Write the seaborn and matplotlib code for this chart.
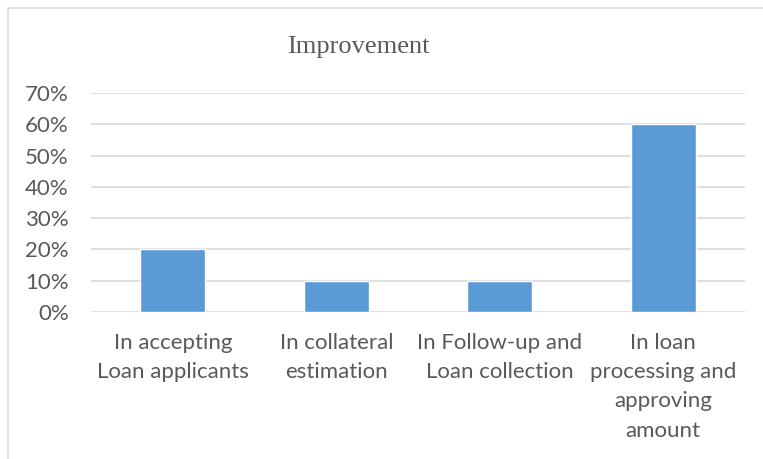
import matplotlib
matplotlib.use("Agg")
import matplotlib.pyplot as plt
import matplotlib.patches as mpatches
from matplotlib.ticker import PercentFormatter, MultipleLocator
import seaborn as sns
import pandas as pd

categories = [
    "In accepting\nLoan applicants",
    "In collateral\nestimation",
    "In Follow-up and\nLoan collection",
    "In loan\nprocessing and\napproving\namount",
]
values = [0.20, 0.10, 0.10, 0.60]
title = "Improvement"

sns.set_theme(style="white")
plt.rcParams["font.family"] = ["Lato", "DejaVu Sans"]

W, H, DPI = 763, 459, 100
fig = plt.figure(figsize=(W / DPI, H / DPI), dpi=DPI)

# outer chart frame (runs past the right and bottom edges)
fig.patches.append(mpatches.Rectangle(
    (8 / W, -0.05), 1.2, 1.05 - 8 / H,
    transform=fig.transFigure, fill=False, edgecolor="#d9d9d9", linewidth=1.2))

ax = fig.add_axes([91 / W, 1 - 312 / H, (745 - 91) / W, (312 - 93) / H])

df = pd.DataFrame({"cat": categories, "val": values})
sns.barplot(data=df, x="cat", y="val", color="#5b9bd5", width=0.4,
            saturation=1, ax=ax, zorder=3)

ax.set_ylim(0, 0.70)
ax.set_xlim(-0.5, 3.5)
ax.yaxis.set_major_locator(MultipleLocator(0.10))
ax.yaxis.set_major_formatter(PercentFormatter(1.0, decimals=0))
ax.grid(axis="y", color="#d9d9d9", linewidth=1.2, zorder=0)
ax.grid(axis="x", visible=False)
for s in ax.spines.values():
    s.set_visible(False)
ax.set_xlabel("")
ax.set_ylabel("")
ax.tick_params(axis="y", length=0, pad=16, labelsize=16, labelcolor="#595959")
ax.tick_params(axis="x", length=0, pad=15, labelsize=16, labelcolor="#595959")
for lbl in ax.get_xticklabels():
    lbl.set_linespacing(1.58)
    lbl.set_horizontalalignment("center")

fig.text(358 / W, 1 - 47 / H, title, ha="center", va="center",
         fontsize=19, color="#595959", family=["Liberation Serif", "DejaVu Serif"])

fig.savefig("out.png", dpi=DPI, facecolor="white")
